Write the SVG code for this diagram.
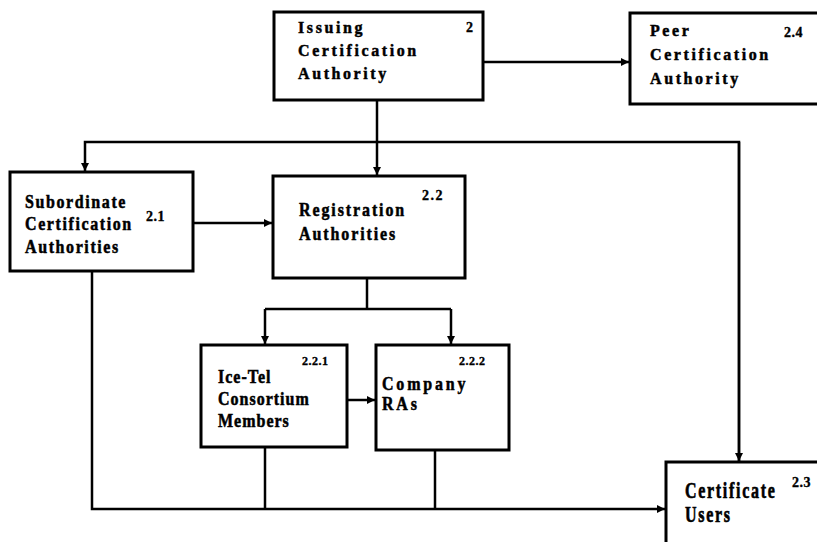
<svg xmlns="http://www.w3.org/2000/svg" width="817" height="542" viewBox="0 0 817 542">
  <style>
    .box { fill: #fff; stroke: #000; stroke-width: 3; }
    .lbl { font-family: "Liberation Serif", "Times New Roman", serif; font-weight: bold; font-size: 16px; fill: #000; stroke: #000; stroke-width: 0.45px; }
    .num { font-family: "Liberation Serif", "Times New Roman", serif; font-weight: bold; font-size: 14px; letter-spacing: 0.5px; fill: #000; stroke: #000; stroke-width: 0.35px; }
    .wire { fill: none; stroke: #000; stroke-width: 2.5; }
  </style>
  <defs>
    <marker id="arrow" viewBox="0 0 10 10" refX="10" refY="5" markerWidth="3.6" markerHeight="3.2" orient="auto" markerUnits="strokeWidth">
      <path d="M0,0 L10,5 L0,10 z" fill="#000"/>
    </marker>
  </defs>
  <rect width="817" height="542" fill="#fff"/>

  <!-- connectors -->
  <g id="connectors">
    <path class="wire" d="M483,62 H629" marker-end="url(#arrow)"/>
    <path class="wire" d="M377,100 V175" marker-end="url(#arrow)"/>
    <path class="wire" d="M739,461 V142 H85 V171" marker-end="url(#arrow)"/>
    <path class="wire" d="M739,142 V461" marker-end="url(#arrow)"/>
    <path class="wire" d="M193,223 H272" marker-end="url(#arrow)"/>
    <path class="wire" d="M367,278 V309"/>
    <path class="wire" d="M265,309 H451"/>
    <path class="wire" d="M265,309 V344" marker-end="url(#arrow)"/>
    <path class="wire" d="M451,309 V344" marker-end="url(#arrow)"/>
    <path class="wire" d="M347,400 H375" marker-end="url(#arrow)"/>
    <path class="wire" d="M92,271 V509 H665" marker-end="url(#arrow)"/>
    <path class="wire" d="M265,447 V509"/>
    <path class="wire" d="M435,450 V509"/>
  </g>

  <g id="issuing-ca">
    <rect class="box" x="274" y="12" width="209" height="88"/>
    <g class="lbl" style="letter-spacing:2.6px">
      <text transform="translate(298,33) scale(1,1.1)">Issuing</text>
      <text transform="translate(298,56) scale(1,1.1)">Certification</text>
      <text transform="translate(298,79) scale(1,1.1)">Authority</text>
    </g>
    <text class="num" x="466" y="32">2</text>
  </g>

  <g id="peer-ca">
    <rect class="box" x="630" y="13" width="200" height="91"/>
    <g class="lbl" style="letter-spacing:2.6px">
      <text transform="translate(650,36) scale(1,1.1)">Peer</text>
      <text transform="translate(650,60) scale(1,1.1)">Certification</text>
      <text transform="translate(650,84) scale(1,1.1)">Authority</text>
    </g>
    <text class="num" x="784" y="37">2.4</text>
  </g>

  <g id="subordinate-ca">
    <rect class="box" x="10" y="172" width="183" height="99"/>
    <g class="lbl" style="letter-spacing:1.6px">
      <text transform="translate(25,208) scale(1,1.18)">Subordinate</text>
      <text transform="translate(25,230) scale(1,1.18)">Certification</text>
      <text transform="translate(25,253) scale(1,1.18)">Authorities</text>
    </g>
    <text class="num" x="146" y="221">2.1</text>
  </g>

  <g id="registration">
    <rect class="box" x="273" y="176" width="192" height="102"/>
    <g class="lbl" style="letter-spacing:1.9px">
      <text transform="translate(299,216) scale(1,1.12)">Registration</text>
      <text transform="translate(299,240) scale(1,1.12)">Authorities</text>
    </g>
    <text class="num" x="422" y="200" style="letter-spacing:1.5px">2.2</text>
  </g>

  <g id="icetel">
    <rect class="box" x="201" y="345" width="146" height="102"/>
    <g class="lbl" style="letter-spacing:1px">
      <text transform="translate(218,383) scale(1,1.2)">Ice-Tel</text>
      <text transform="translate(218,405) scale(1,1.2)">Consortium</text>
      <text transform="translate(218,427) scale(1,1.2)">Members</text>
    </g>
    <text class="num" x="302" y="365" style="font-size:12px">2.2.1</text>
  </g>

  <g id="company-ras">
    <rect class="box" x="376" y="345" width="133" height="105"/>
    <g class="lbl" style="letter-spacing:2.8px">
      <text transform="translate(382,390) scale(1,1.12)">Company</text>
      <text transform="translate(382,410) scale(1,1.12)">RAs</text>
    </g>
    <text class="num" x="459" y="365" style="font-size:12px">2.2.2</text>
  </g>

  <g id="certificate-users">
    <rect class="box" x="666" y="462" width="165" height="95"/>
    <g class="lbl" style="letter-spacing:1.7px">
      <text transform="translate(685,498) scale(1,1.4)">Certificate</text>
      <text transform="translate(685,522) scale(1,1.4)">Users</text>
    </g>
    <text class="num" x="792" y="487" style="font-size:14px">2.3</text>
  </g>
</svg>
